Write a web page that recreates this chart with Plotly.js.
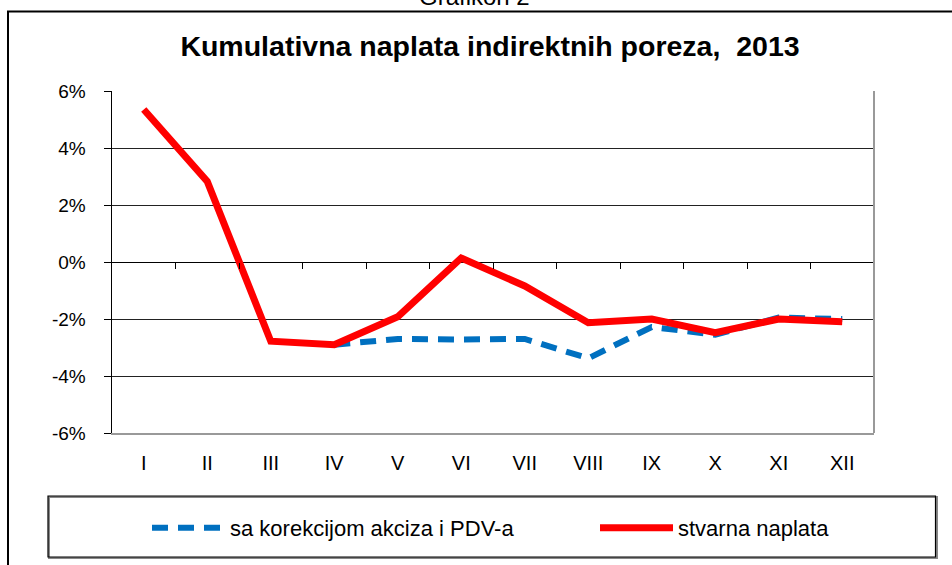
<!DOCTYPE html>
<html>
<head>
<meta charset="utf-8">
<script src="https://cdn.plot.ly/plotly-3.0.1.min.js"></script>
<style>html,body{margin:0;padding:0;background:#fff;}#chart{width:952px;height:565px;}</style>
</head>
<body>
<div id="chart"></div>
<script>
var months = ["I","II","III","IV","V","VI","VII","VIII","IX","X","XI","XII"];
var korekcija = [null, null, null, -2.9, -2.7, -2.72, -2.7, -3.38, -2.28, -2.55, -1.95, -2.0];
var stvarna = [5.35, 2.83, -2.78, -2.9, -1.92, 0.14, -0.84, -2.13, -2.0, -2.48, -2.0, -2.1];
var yTickVals = [-6, -4, -2, 0, 2, 4, 6];
var yTickText = ["-6%", "-4%", "-2%", "0%", "2%", "4%", "6%"];
var boundaryTicks = [0.5, 1.5, 2.5, 3.5, 4.5, 5.5, 6.5, 7.5, 8.5, 9.5, 10.5, 11.5];

var W = 952, H = 565, L = 112, R = 874, T = 91, B = 433;
function px(x){ return (x - L) / (R - L); }
function py(y){ return (B - y) / (B - T); }

var traces = [
  {x: months, y: korekcija, name: "sa korekcijom akciza i PDV-a", type: "scatter", mode: "lines",
   line: {color: "#0070C0", width: 6, dash: "16px,10px"}, connectgaps: false, legend: "legend"},
  {x: months, y: stvarna, name: "stvarna naplata", type: "scatter", mode: "lines",
   line: {color: "#FF0000", width: 7}, legend: "legend2"},
  {x: boundaryTicks, y: boundaryTicks.map(function(){return null;}), xaxis: "x2", yaxis: "y",
   type: "scatter", mode: "lines", showlegend: false, hoverinfo: "skip"}
];

var legendCommon = {orientation: "h", xanchor: "left", yanchor: "middle",
  bgcolor: "rgba(0,0,0,0)", borderwidth: 0, font: {size: 22}, itemwidth: 73};

var layout = {
  width: W, height: H,
  margin: {l: L, r: W - R, t: T, b: H - B, pad: 0},
  paper_bgcolor: "#fff", plot_bgcolor: "#fff",
  font: {family: "Arial, 'Liberation Sans', sans-serif", color: "#000", size: 19},
  title: {text: "<b>Kumulativna naplata indirektnih poreza,  2013</b>", x: px(490), xref: "paper",
          xanchor: "center", y: 1 - 46 / H, yanchor: "middle", font: {size: 28.5, color: "#000"}},
  xaxis: {type: "category", range: [-0.5, 11.5], showgrid: false, zeroline: false,
          showline: true, linecolor: "#999", linewidth: 2, ticks: "", ticklabelstandoff: 11,
          tickfont: {size: 20}},
  xaxis2: {overlaying: "x", anchor: "free", position: 0.5, range: [-0.5, 11.5],
           tickmode: "array", tickvals: boundaryTicks, ticks: "outside", ticklen: 6,
           tickcolor: "#000", tickwidth: 1, showticklabels: false, showgrid: false,
           zeroline: false, showline: false, side: "bottom"},
  yaxis: {range: [-6, 6], tickmode: "array", tickvals: yTickVals, ticktext: yTickText,
          showgrid: true, gridcolor: "#222", gridwidth: 1, zeroline: true, zerolinecolor: "#000",
          zerolinewidth: 1, showline: true, linecolor: "#000", linewidth: 1.5,
          ticks: "outside", ticklen: 7, tickcolor: "#000", ticklabelstandoff: 14,
          tickfont: {size: 19}},
  showlegend: true,
  legend: Object.assign({}, legendCommon, {x: px(147), y: py(528)}),
  legend2: Object.assign({}, legendCommon, {x: px(595), y: py(528)}),
  shapes: [
    {type: "rect", xref: "paper", yref: "paper", x0: px(8), x1: px(970), y0: py(11.5), y1: py(590),
     line: {color: "#000", width: 2}, layer: "below"},
    {type: "line", xref: "paper", yref: "paper", x0: 1, x1: 1, y0: 0, y1: 1,
     line: {color: "#999", width: 2}},
    {type: "rect", xref: "paper", yref: "paper", x0: px(49), x1: px(937), y0: py(558), y1: py(497),
     line: {color: "#888", width: 2}},
    {type: "rect", xref: "paper", yref: "paper", x0: px(48), x1: px(935.5), y0: py(557), y1: py(496),
     line: {color: "#000", width: 1.2}}
  ],
  annotations: [
    {text: "Grafikon 2", xref: "paper", yref: "paper", x: px(474), y: py(-4), xanchor: "center",
     yanchor: "middle", showarrow: false, font: {size: 24, color: "#000"}}
  ]
};

Plotly.newPlot("chart", traces, layout, {displayModeBar: false, staticPlot: true});
</script>
</body>
</html>
